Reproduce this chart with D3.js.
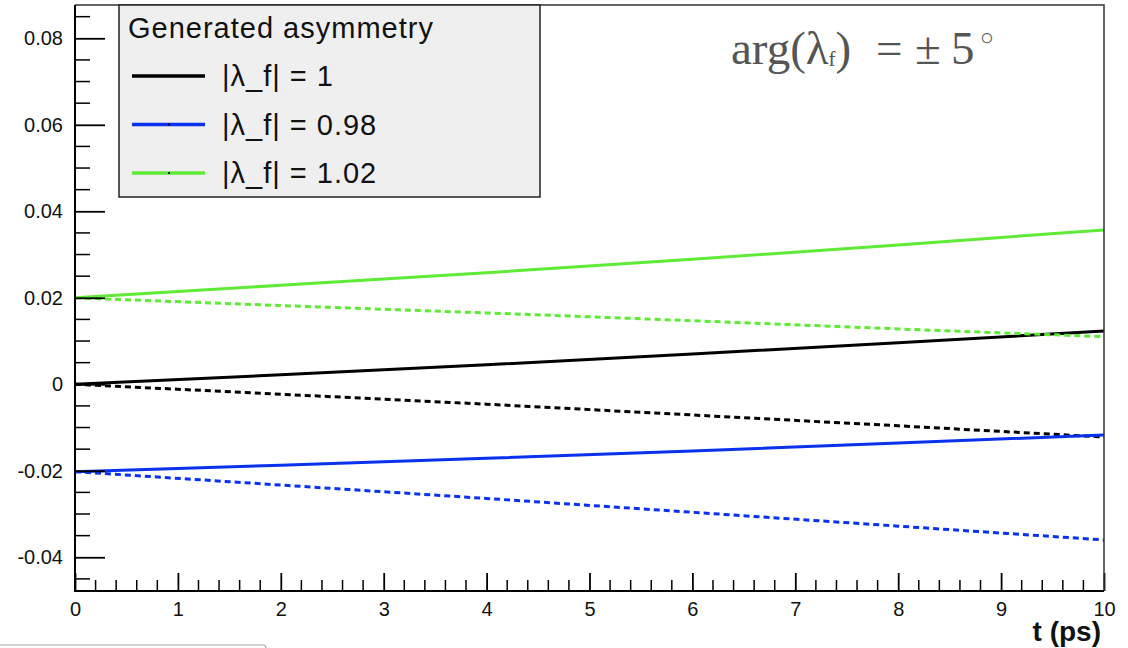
<!DOCTYPE html>
<html>
<head>
<meta charset="utf-8">
<script src="https://cdn.jsdelivr.net/npm/d3@7"></script>
<style>
	body { margin: 0; background: #fff; }
	#chart { width: 1128px; height: 648px; }
</style>
</head>
<body>
<div id="chart"></div>
<script>
// values, t in ps
let times			= [0, 2, 4, 6, 8, 10];
let blackSolid		= [0.0000, 0.0022, 0.0045, 0.0070, 0.0096, 0.0123];
let blackDashed		= [0.0000, -0.0023, -0.0046, -0.0071, -0.0096, -0.0122];
let blueSolid		= [-0.0202, -0.0187, -0.0171, -0.0154, -0.0136, -0.0117];
let blueDashed		= [-0.0202, -0.0233, -0.0264, -0.0296, -0.0328, -0.0360];
let greenSolid		= [0.0200, 0.0229, 0.0258, 0.0289, 0.0322, 0.0357];
let greenDashed		= [0.0200, 0.0182, 0.0165, 0.0147, 0.0128, 0.0110];

let legendTitle		= "Generated asymmetry";
let legendLabels	= ["|\u03bb_f| = 1", "|\u03bb_f| = 0.98", "|\u03bb_f| = 1.02"];
let seriesColors	= ["#000000", "#0a32ee", "#5fea38"];

let xTicks			= [0, 1, 2, 3, 4, 5, 6, 7, 8, 9, 10];
let yTicks			= [-0.04, -0.02, 0, 0.02, 0.04, 0.06, 0.08];
let yTickLabels		= ["-0.04", "-0.02", "0", "0.02", "0.04", "0.06", "0.08"];

let sans	= "'Liberation Sans', Arial, Helvetica, sans-serif";
let serif	= "'Liberation Serif', 'Times New Roman', Times, serif";

function createChart() {
	let canvasWidth		= 1128;
	let canvasHeight	= 648;

	let frame			= { left: 75, right: 1104, top: 5, bottom: 591 };

	let x = d3.scaleLinear().domain([0, 10]).range([frame.left, frame.right]);
	let y = d3.scaleLinear().domain([-0.0478, 0.0877]).range([frame.bottom, frame.top]);

	let svg = d3.select("#chart").append("svg")
		.attr("width", canvasWidth)
		.attr("height", canvasHeight)
		.style("font-family", sans);

	// curves
	let series = [
		{ values: blackSolid,  color: seriesColors[0], dash: null },
		{ values: blackDashed, color: seriesColors[0], dash: "6,4" },
		{ values: blueSolid,   color: seriesColors[1], dash: null },
		{ values: blueDashed,  color: seriesColors[1], dash: "6,4" },
		{ values: greenSolid,  color: seriesColors[2], dash: null },
		{ values: greenDashed, color: seriesColors[2], dash: "6,4" }
	];

	let line = d3.line()
		.x((d, i) => x(times[i]))
		.y((d) => y(d));

	svg.selectAll("path.curve")
		.data(series)
			.enter().append("path")
			.attr("class", "curve")
			.attr("d", (o) => line(o.values))
			.attr("fill", "none")
			.attr("stroke", (o) => o.color)
			.attr("stroke-width", 3)
			.attr("stroke-dasharray", (o) => o.dash);

	// x axis, ticks inside the frame
	let xMinor = d3.range(0, 10.001, 0.2).filter((v) => Math.abs(v - Math.round(v)) > 1e-6);
	let xAxis = svg.append("g").attr("transform", "translate(0," + frame.bottom + ")");
	xAxis.call(d3.axisBottom(x).tickValues(xTicks).tickSize(-18).tickFormat(d3.format("d")));
	xAxis.selectAll("line.minor")
		.data(xMinor)
			.enter().append("line")
			.attr("x1", (d) => x(d)).attr("x2", (d) => x(d))
			.attr("y1", 0).attr("y2", -11)
			.attr("stroke", "#000")
			.attr("stroke-width", 1.5);
	xAxis.select(".domain").remove();
	xAxis.selectAll(".tick line").attr("stroke", "#000").attr("stroke-width", 1.8);
	xAxis.selectAll(".tick text")
		.attr("y", 25)
		.attr("dy", 0)
		.attr("font-size", 20)
		.attr("font-family", null)
		.attr("fill", "#111");

	// y axis
	let yMinor = d3.range(-0.045, 0.0851, 0.005).filter((v) => Math.abs(v / 0.02 - Math.round(v / 0.02)) > 1e-6);
	let yAxis = svg.append("g").attr("transform", "translate(" + frame.left + ",0)");
	yAxis.call(d3.axisLeft(y).tickValues(yTicks).tickSize(-30)
		.tickFormat((d, i) => yTickLabels[i]));
	yAxis.selectAll("line.minor")
		.data(yMinor)
			.enter().append("line")
			.attr("x1", 0).attr("x2", 15)
			.attr("y1", (d) => y(d)).attr("y2", (d) => y(d))
			.attr("stroke", "#000")
			.attr("stroke-width", 1.5);
	yAxis.select(".domain").remove();
	yAxis.selectAll(".tick line").attr("stroke", "#000").attr("stroke-width", 1.8);
	yAxis.selectAll(".tick text")
		.attr("x", -12)
		.attr("font-size", 20)
		.attr("font-family", null)
		.attr("fill", "#111");

	// frame
	svg.append("path")
		.attr("d", "M" + frame.left + "," + frame.top + "H" + frame.right + "V" + frame.bottom)
		.attr("fill", "none")
		.attr("stroke", "#333")
		.attr("stroke-width", 1.5);
	svg.append("path")
		.attr("d", "M" + frame.left + "," + frame.top + "V" + frame.bottom + "H" + frame.right)
		.attr("fill", "none")
		.attr("stroke", "#000")
		.attr("stroke-width", 2);

	svg.append("text")
		.attr("x", 1101)
		.attr("y", 641)
		.attr("text-anchor", "end")
		.attr("font-size", 28)
		.attr("font-weight", "bold")
		.attr("fill", "#111")
		.text("t (ps)");

	// legend
	let legend = svg.append("g");
	legend.append("rect")
		.attr("x", 119).attr("y", frame.top)
		.attr("width", 421).attr("height", 192)
		.attr("fill", "#efefef")
		.attr("stroke", "#222")
		.attr("stroke-width", 1.5);
	legend.append("text")
		.attr("x", 128).attr("y", 38)
		.attr("font-size", 29)
		.attr("letter-spacing", 1)
		.attr("fill", "#111")
		.text(legendTitle);

	let rows = legend.selectAll("g.row")
		.data(legendLabels)
			.enter().append("g")
			.attr("class", "row")
			.attr("transform", (d, i) => "translate(0," + (76 + i * 48.5) + ")");
	rows.append("line")
		.attr("x1", 132).attr("x2", 205)
		.attr("stroke", (d, i) => seriesColors[i])
		.attr("stroke-width", 3.5);
	rows.filter((d, i) => i > 0).append("rect")
		.attr("x", 168).attr("y", -1).attr("width", 2).attr("height", 2)
		.attr("fill", "#000");
	rows.append("text")
		.attr("x", 222).attr("y", 10)
		.attr("font-size", 29)
		.attr("letter-spacing", 1)
		.attr("fill", "#111")
		.text((d) => d);

	// annotation
	let note = svg.append("text")
		.attr("x", 731).attr("y", 64)
		.style("font-family", serif)
		.attr("font-size", 47)
		.attr("fill", "#555");
	note.append("tspan").text("arg(\u03bb");
	note.append("tspan").attr("font-size", 21).attr("dy", 2).text("f");
	note.append("tspan").attr("dy", -2).text(")");
	note.append("tspan").attr("x", 876).text("=");
	note.append("tspan").attr("x", 915).text("\u00b1");
	note.append("tspan").attr("x", 951).text("5");
	svg.append("text")
		.attr("x", 987).attr("y", 45)
		.attr("text-anchor", "middle")
		.attr("font-size", 23)
		.attr("fill", "#555")
		.text("\u25cb");

	// stray box at the bottom edge
	svg.append("rect")
		.attr("x", -5).attr("y", 645)
		.attr("width", 271).attr("height", 20)
		.attr("rx", 3)
		.attr("fill", "none")
		.attr("stroke", "#aaa")
		.attr("stroke-width", 1.2);
}

createChart();
</script>
</body>
</html>
